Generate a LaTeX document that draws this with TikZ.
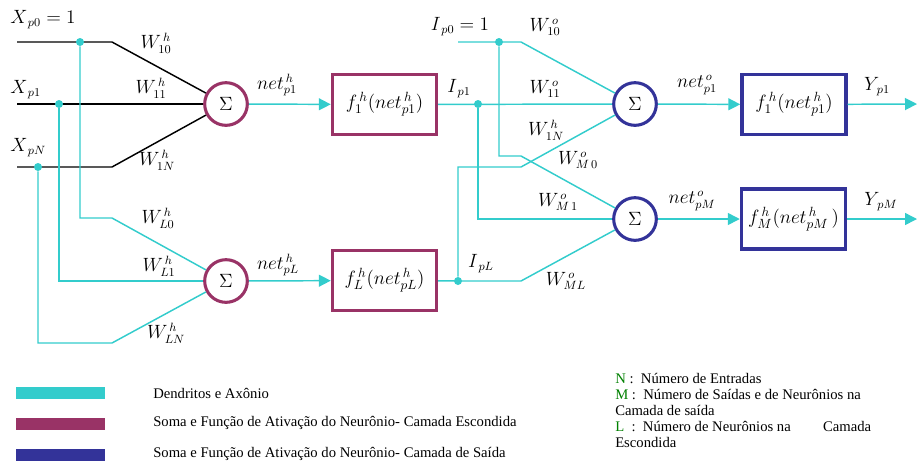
\documentclass[tikz,border=0pt]{standalone}
\usepackage{fontspec}
\setmainfont{Liberation Serif}
\usetikzlibrary{arrows.meta}
\definecolor{cy}{HTML}{33CCCC}
\definecolor{mag}{HTML}{993366}
\definecolor{blu}{HTML}{333399}
\definecolor{grn}{HTML}{008000}
\begin{document}
\begin{tikzpicture}[x=0.75pt,y=-0.75pt,
  blk/.style={line width=1.1pt, black},
  cyl/.style={line width=1.1pt, cy},
  arr/.style={cyl, -{Triangle[length=9pt,width=9pt]}},
  sumh/.style={circle, draw=mag, line width=2.3pt, minimum size=32pt, inner sep=0pt, font=\fontsize{15}{17}\selectfont},
  sumo/.style={sumh, draw=blu},
  boxh/.style={draw=mag, line width=2.6pt, minimum width=78pt, minimum height=45pt, inner sep=0pt, font=\fontsize{14.5}{16}\selectfont},
  boxo/.style={boxh, draw=blu},
  jdot/.style={circle, fill=cy, inner sep=0pt, minimum size=6pt},
  lab/.style={inner sep=0pt, font=\fontsize{13.5}{15}\selectfont},
  legtxt/.style={inner sep=0pt, anchor=west, font=\fontsize{11}{12}\selectfont},
  bar/.style={inner sep=0pt, minimum width=67pt, minimum height=9pt}]
\useasboundingbox (0,0) rectangle (917,462);

% ---------- hidden layer nodes
\node[sumh] (s1) at (226,104) {$\Sigma$};
\node[sumh] (s2) at (226,281) {$\Sigma$};
\node[boxh] (h1) at (384.5,104.5) {$f_1^{\,h}(net^{\,h}_{p1})$};
\node[boxh] (h2) at (384.5,280.5) {$f_L^{\,h}(net^{\,h}_{pL})$};

% ---------- output layer nodes
\node[sumo] (o1) at (635,104) {$\Sigma$};
\node[sumo] (o2) at (635,219) {$\Sigma$};
\node[boxo] (y1) at (794,104.5) {$f_1^{\,h}(net^{\,h}_{p1})$};
\node[boxo] (y2) at (793.5,219) {$f_M^{\,h}(net^{\,h}_{pM}\,)$};

% ---------- input coordinates
\coordinate (x0s) at (17,42);  \coordinate (x0k) at (112,42);
\coordinate (x1s) at (17,104);
\coordinate (xNs) at (17,167); \coordinate (xNk) at (112,167);
\coordinate (l0a) at (80,218); \coordinate (l0k) at (112,218);
\coordinate (l1a) at (59,281);
\coordinate (lNa) at (38,343); \coordinate (lNk) at (112,343);

% black dendrites to first hidden neuron
\draw[blk] (x0s) -- (x0k) -- (s1);
\draw[blk] (x1s) -- (s1);
\draw[blk] (xNs) -- (xNk) -- (s1);

% junction dots
\node[jdot] (d0) at (80,42) {};
\node[jdot] (d1) at (59,104) {};
\node[jdot] (dN) at (38,167) {};

% cyan dendrites to L-th hidden neuron
\draw[cyl] (d0) -- (l0a) -- (l0k) -- (s2);
\draw[cyl] (d1) -- (l1a) -- (s2);
\draw[cyl] (dN) -- (lNa) -- (lNk) -- (s2);

% net arrows hidden
\draw[arr] (s1) -- (h1);
\draw[arr] (s2) -- (h2);

% ---------- output layer connections
\coordinate (i0s) at (458,42); \coordinate (i0k) at (521,42);
\coordinate (m0a) at (499,156); \coordinate (m0k) at (521,156);
\coordinate (m1a) at (478,219);
\coordinate (lLk) at (521,281);
\coordinate (lLa) at (458,167); \coordinate (lLb) at (521,167);
\coordinate (e1c) at (478,104);
\coordinate (eLc) at (458,281);

\draw[cyl] (h1) -- (o1);
\draw[cyl] (i0s) -- (i0k) -- (o1);
\draw[cyl] (h2) -- (eLc) -- (lLk) -- (o2);

\node[jdot] (e0) at (499,42) {};
\node[jdot] (e1) at (e1c) {};
\node[jdot] (eL) at (eLc) {};

\draw[cyl] (e0) -- (m0a) -- (m0k) -- (o2);
\draw[cyl] (e1) -- (m1a) -- (o2);
\draw[cyl] (eL) -- (lLa) -- (lLb) -- (o1);

\draw[arr] (o1) -- (y1);
\draw[arr] (o2) -- (y2);
\coordinate (out1) at (917,104);
\coordinate (out2) at (917,219);
\draw[arr] (y1) -- (out1);
\draw[arr] (y2) -- (out2);

% ---------- labels
\node[lab, anchor=west] (lx0) at (10,20) {$X_{\,p0}=1$};
\node[lab, anchor=west] (lx1) at (10,90) {$X_{\,p1}$};
\node[lab, anchor=west] (lxN) at (10,148) {$X_{\,pN}$};
\node[lab] (w10) at (156,43) {$W^{\,h}_{10}$};
\node[lab] (w11) at (151,88) {$W^{\,h}_{11}$};
\node[lab] (w1N) at (157,160) {$W^{\,h}_{1N}$};
\node[lab] (wL0) at (158,218) {$W^{\,h}_{L0}$};
\node[lab] (wL1) at (159,266) {$W^{\,h}_{L1}$};
\node[lab] (wLN) at (166,333) {$W^{\,h}_{LN}$};
\node[lab] (n1) at (277,85) {$net^{\,h}_{p1}$};
\node[lab] (nL) at (278,265) {$net^{\,h}_{pL}$};

\node[lab] (li0) at (460,27) {$I_{\,p0}=1$};
\node[lab] (wo10) at (545,27) {$W^{\,o}_{10}$};
\node[lab] (li1) at (459,89) {$I_{\,p1}$};
\node[lab] (wo11) at (545,89) {$W^{\,o}_{11}$};
\node[lab] (wo1N) at (546,130) {$W^{\,h}_{1N}$};
\node[lab] (woM0) at (578,160) {$W^{\,o}_{M\,0}$};
\node[lab] (woM1) at (558,202) {$W^{\,o}_{M\,1}$};
\node[lab] (liL) at (481,264) {$I_{\,pL}$};
\node[lab] (woML) at (566,281) {$W^{\,o}_{ML}$};
\node[lab] (no1) at (697,85) {$net^{\,o}_{p1}$};
\node[lab] (noM) at (692,201) {$net^{\,o}_{pM}$};
\node[lab] (ly1) at (877,87) {$Y_{\,p1}$};
\node[lab] (lyM) at (881,202) {$Y_{\,pM}$};

% ---------- legend
\node[bar, fill=cy]  (b1) at (60.5,393) {};
\node[bar, fill=mag] (b2) at (60.5,424) {};
\node[bar, fill=blu] (b3) at (60.5,455) {};
\node[legtxt] (t1) at (153,393) {Dendritos e Axônio};
\node[legtxt] (t2) at (153,423) {Soma e Função de Ativação do Neurônio- Camada Escondida};
\node[legtxt] (t3) at (153,454) {Soma e Função de Ativação do Neurônio- Camada de Saída};

\node[inner sep=0pt, anchor=north west, align=left, font=\fontsize{11}{12}\selectfont] (nt) at (615,373) {%
\textcolor{grn}{N} :\ \ Número de Entradas\\
\textcolor{grn}{M} :\ \ Número de Saídas e de Neurônios na\\
Camada de saída\\
\textcolor{grn}{L}\ \ :\ \ Número de Neurônios na\hspace{2.2em}Camada\\
Escondida};
\end{tikzpicture}
\end{document}
